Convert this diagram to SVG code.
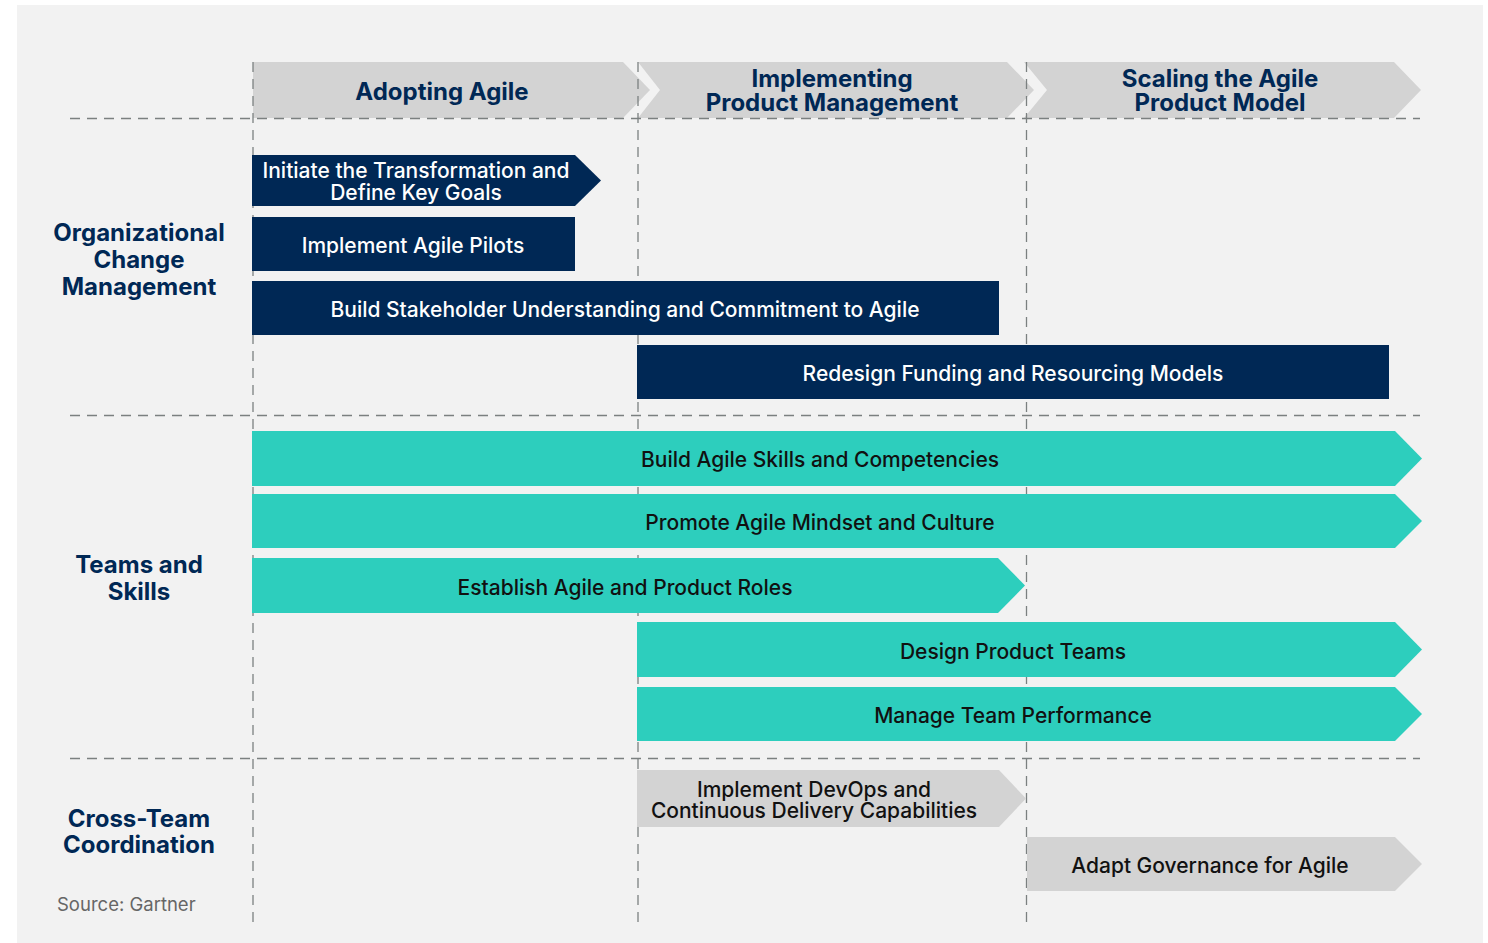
<svg xmlns="http://www.w3.org/2000/svg" width="1488" height="943" viewBox="0 0 1488 943">
<style>
.hdr{fill:#d3d3d3}
.navy{fill:#002855}
.teal{fill:#2dcebd}
.grey{fill:#d3d3d3}
.ht{font-family:Inter,"Noto Sans",sans-serif;font-weight:700;font-size:24px;fill:#002855;text-anchor:middle}
.rl{font-family:Inter,"Noto Sans",sans-serif;font-weight:700;font-size:24px;fill:#002855;text-anchor:middle}
.wt{font-family:Inter,"Noto Sans",sans-serif;font-weight:500;font-size:21px;fill:#ffffff;text-anchor:middle}
.dt{font-family:Inter,"Noto Sans",sans-serif;font-weight:500;font-size:21px;fill:#111111;text-anchor:middle}
.dash{stroke:#7b8080;stroke-width:1.3;stroke-dasharray:10 7;fill:none}
</style>
<rect x="0" y="0" width="1488" height="943" fill="#ffffff"/>
<rect x="17" y="5" width="1466" height="938" fill="#f2f2f2"/>
<g id="phase-1"><polygon class="hdr" points="253,62 623,62 650,90 623,118 253,118"/><text class="ht" x="442" y="100">Adopting Agile</text></g>
<g id="phase-2"><polygon class="hdr" points="638,62 1007,62 1034,90 1007,118 638,118 660,90"/><text class="ht" x="832" y="87">Implementing</text><text class="ht" x="832" y="111">Product Management</text></g>
<g id="phase-3"><polygon class="hdr" points="1024,62 1394,62 1421,90 1394,118 1024,118 1047,90"/><text class="ht" x="1220" y="87">Scaling the Agile</text><text class="ht" x="1220" y="111">Product Model</text></g>
<g id="grid">
<line class="dash" x1="70" y1="118.5" x2="1420" y2="118.5"/>
<line class="dash" x1="70" y1="415.5" x2="1420" y2="415.5"/>
<line class="dash" x1="70" y1="758.5" x2="1420" y2="758.5"/>
<line class="dash" x1="253" y1="62" x2="253" y2="922"/>
<line class="dash" x1="638" y1="62" x2="638" y2="922"/>
<line class="dash" x1="1026.5" y1="62" x2="1026.5" y2="925"/>
</g>
<g id="row-labels">
<text class="rl" x="139" y="241">Organizational</text><text class="rl" x="139" y="268">Change</text><text class="rl" x="139" y="295">Management</text>
<text class="rl" x="139" y="573">Teams and</text><text class="rl" x="139" y="600">Skills</text>
<text class="rl" x="139" y="827">Cross-Team</text><text class="rl" x="139" y="853">Coordination</text>
</g>
<g id="bar-initiate"><polygon class="navy" points="252,155 575,155 601,180.5 575,206 252,206"/><text class="wt" x="416" y="178">Initiate the Transformation and</text><text class="wt" x="416" y="200">Define Key Goals</text></g>
<g id="bar-pilots"><rect class="navy" x="252" y="217" width="323" height="54"/><text class="wt" x="413" y="253">Implement Agile Pilots</text></g>
<g id="bar-stakeholder"><rect class="navy" x="252" y="281" width="747" height="54"/><text class="wt" x="625" y="317">Build Stakeholder Understanding and Commitment to Agile</text></g>
<g id="bar-funding"><rect class="navy" x="637" y="345" width="752" height="54"/><text class="wt" x="1013" y="381">Redesign Funding and Resourcing Models</text></g>
<g id="bar-skills"><polygon class="teal" points="252,431 1395,431 1422,458.5 1395,486 252,486"/><text class="dt" x="820" y="467">Build Agile Skills and Competencies</text></g>
<g id="bar-mindset"><polygon class="teal" points="252,494 1395,494 1422,521 1395,548 252,548"/><text class="dt" x="820" y="530">Promote Agile Mindset and Culture</text></g>
<g id="bar-roles"><polygon class="teal" points="252,558 998,558 1025,585.5 998,613 252,613"/><text class="dt" x="625" y="595">Establish Agile and Product Roles</text></g>
<g id="bar-teams"><polygon class="teal" points="637,622 1395,622 1422,649.5 1395,677 637,677"/><text class="dt" x="1013" y="659">Design Product Teams</text></g>
<g id="bar-performance"><polygon class="teal" points="637,687 1395,687 1422,714 1395,741 637,741"/><text class="dt" x="1013" y="723">Manage Team Performance</text></g>
<g id="bar-devops"><polygon class="grey" points="637,770 999,770 1026,798.5 999,827 637,827"/><text class="dt" x="814" y="797">Implement DevOps and</text><text class="dt" x="814" y="818">Continuous Delivery Capabilities</text></g>
<g id="bar-governance"><polygon class="grey" points="1027,837 1395,837 1422,864 1395,891 1027,891"/><text class="dt" x="1210" y="873">Adapt Governance for Agile</text></g>
<text x="57" y="911" font-family="Inter,'Noto Sans',sans-serif" font-size="18.5" fill="#666666">Source: Gartner</text>
</svg>
